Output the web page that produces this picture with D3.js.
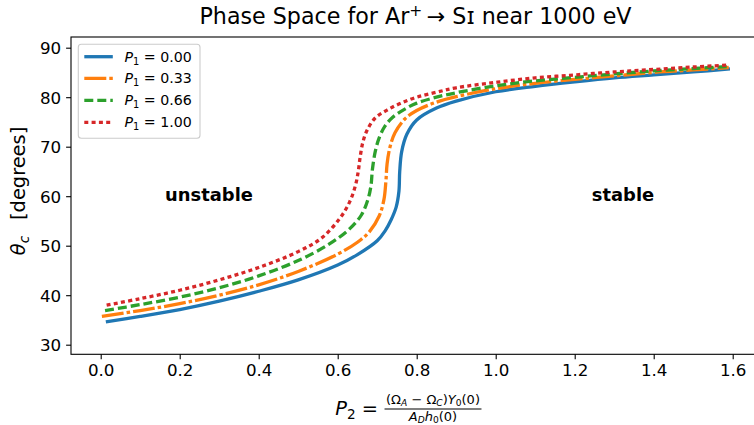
<!DOCTYPE html>
<html><head><meta charset="utf-8">
<script src="https://cdn.jsdelivr.net/npm/d3@7"></script>
<style>body{margin:0;background:#fff}svg{display:block;font-family:"DejaVu Sans",sans-serif}</style>
</head><body><svg id="c" width="754" height="425"></svg>
<script>
// ---- data ----
const seriesLabels = ["0.00", "0.33", "0.66", "1.00"];
const p2_P0 = [0.013,0.1,0.2,0.3,0.4,0.5,0.6,0.65,0.7,0.72,0.735,0.748,0.755,0.757,0.762,0.775,0.8,0.85,0.9,1.0,1.1,1.2,1.3,1.4,1.5,1.593];
const th_P0 = [34.6,35.7,37.1,38.8,40.8,43.1,46.1,48.2,51.0,53.0,55.2,57.8,61.0,65.0,69.0,72.5,75.4,77.8,79.2,81.1,82.2,83.1,83.9,84.5,85.1,85.7];
const p2_P33 = [0.003,0.1,0.2,0.3,0.4,0.5,0.6,0.65,0.68,0.705,0.717,0.722,0.725,0.732,0.745,0.77,0.8,0.85,0.9,1.0,1.1,1.2,1.3,1.4,1.5,1.59];
const th_P33 = [35.7,36.9,38.3,40.0,42.1,44.8,48.3,50.7,52.8,56.0,59.3,63.0,66.5,69.8,72.8,75.6,77.3,79.0,80.1,81.7,82.8,83.6,84.3,85.0,85.5,86.0];
const p2_P66 = [0.011,0.1,0.2,0.3,0.4,0.5,0.58,0.63,0.66,0.676,0.684,0.688,0.695,0.705,0.72,0.74,0.77,0.8,0.85,0.9,1.0,1.1,1.2,1.3,1.4,1.5,1.59];
const th_P66 = [36.9,38.1,39.6,41.5,43.9,47.0,50.4,53.4,56.2,59.2,62.0,65.5,69.0,71.8,74.2,76.0,77.6,78.8,80.0,80.9,82.3,83.3,84.0,84.7,85.3,85.8,86.2];
const p2_P100 = [0.015,0.1,0.2,0.3,0.4,0.5,0.56,0.606,0.63,0.645,0.652,0.657,0.664,0.675,0.695,0.725,0.76,0.8,0.85,0.9,1.0,1.1,1.2,1.3,1.4,1.5,1.59];
const th_P100 = [38.0,39.3,41.0,43.1,45.6,48.8,51.6,55.6,58.8,62.2,65.0,68.0,71.0,73.4,75.8,77.4,78.8,80.0,81.0,81.9,83.0,83.9,84.5,85.1,85.6,86.1,86.5];
const xTicks = [0.0,0.2,0.4,0.6,0.8,1.0,1.2,1.4,1.6];
const yTicks = [30,40,50,60,70,80,90];

// ---- layout ----
const svg = d3.select("#c");
const L = 71, T = 37, R = 760, B = 354.3;
const x = d3.scaleLinear().domain([-0.0752, 1.6691]).range([L, R]);
const y = d3.scaleLinear().domain([28.06, 92.16]).range([B, T]);

const styles = [
  {c:"#1f77b4", d:null},
  {c:"#ff7f0e", d:"22,3,3.5,3"},
  {c:"#2ca02c", d:"9,4"},
  {c:"#d62728", d:"4,3.3"}
];
const xs = [p2_P0, p2_P33, p2_P66, p2_P100];
const ys = [th_P0, th_P33, th_P66, th_P100];

const line = d3.line().x(d=>x(d[0])).y(d=>y(d[1])).curve(d3.curveCatmullRom.alpha(0.5));
xs.forEach((xv,i)=>{
  const pts = xv.map((v,j)=>[v, ys[i][j]]);
  svg.append("path").attr("d", line(pts)).attr("fill","none")
    .attr("stroke", styles[i].c).attr("stroke-width", 3.3)
    .attr("stroke-dasharray", styles[i].d).attr("stroke-linecap","butt");
});

// axes
const xAxis = svg.append("g").attr("transform",`translate(0,${B})`)
  .call(d3.axisBottom(x).tickValues(xTicks).tickFormat(d3.format(".1f")).tickSize(4.9).tickPadding(4.9));
const yAxis = svg.append("g").attr("transform",`translate(${L},0)`)
  .call(d3.axisLeft(y).tickValues(yTicks).tickFormat(d3.format("d")).tickSize(4.9).tickPadding(4.9));
[xAxis,yAxis].forEach(g=>{
  g.selectAll("text").attr("font-size",16.7).attr("fill","#000").attr("font-family","DejaVu Sans");
  g.selectAll("line").attr("stroke","#000").attr("stroke-width",1.1);
  g.select(".domain").remove();
});
yAxis.selectAll("text").attr("dy","0.36em");
// spines
svg.append("rect").attr("x",L).attr("y",T).attr("width",R-L).attr("height",B-T)
  .attr("fill","none").attr("stroke","#000").attr("stroke-width",1.1);

// title
const title = svg.append("text").attr("x",(L+R)/2).attr("y",24).attr("text-anchor","middle")
  .attr("font-size",22.2).attr("fill","#000");
title.append("tspan").text("Phase Space for Ar");
title.append("tspan").attr("dy",-8).attr("font-size",15.5).text("+");
title.append("tspan").attr("dy",8).text("\u2009\u2192 S\u026A near 1000 eV");

// region labels
svg.append("text").attr("x",209).attr("y",201).attr("text-anchor","middle")
  .attr("font-size",17.9).attr("font-weight","bold").text("unstable");
svg.append("text").attr("x",623).attr("y",201).attr("text-anchor","middle")
  .attr("font-size",17.9).attr("font-weight","bold").text("stable");

// legend
const lg = svg.append("g");
lg.append("rect").attr("x",78.3).attr("y",44.3).attr("width",121.7).attr("height",94)
  .attr("rx",3).attr("fill","#fff").attr("fill-opacity",0.8).attr("stroke","#cccccc").attr("stroke-width",1.1);
const rowY = [56.7, 78.3, 100.3, 122.3];
seriesLabels.forEach((lab,i)=>{
  lg.append("line").attr("x1",84.3).attr("x2",112.8).attr("y1",rowY[i]).attr("y2",rowY[i])
    .attr("stroke",styles[i].c).attr("stroke-width",3.3).attr("stroke-dasharray",styles[i].d);
  const t = lg.append("text").attr("x",124.5).attr("y",rowY[i]+5).attr("font-size",14.2);
  t.append("tspan").attr("font-style","italic").text("P");
  t.append("tspan").attr("font-size",9.9).attr("dy",2.9).text("1");
  t.append("tspan").attr("dy",-2.9).text(" = " + lab);
});

// y label
const yl = svg.append("text").attr("transform","translate(25,191) rotate(-90)")
  .attr("text-anchor","middle").attr("font-size",19.4);
yl.append("tspan").attr("font-style","italic").text("θ");
yl.append("tspan").attr("font-style","italic").attr("font-size",13.6).attr("dy",3.9).text("c");
yl.append("tspan").attr("dy",-3.9).text("\u2002 [degrees]");

// x label (fraction)
const xl = svg.append("text").attr("x",378).attr("y",415).attr("text-anchor","end").attr("font-size",19.4);
xl.append("tspan").attr("font-style","italic").text("P");
xl.append("tspan").attr("font-size",13.6).attr("dy",3.9).text("2");
xl.append("tspan").attr("dy",-3.9).text(" =");
const fx = 433;
const num = svg.append("text").attr("x",fx).attr("y",404).attr("text-anchor","middle").attr("font-size",13);
num.append("tspan").text("(Ω");
num.append("tspan").attr("font-style","italic").attr("font-size",9.1).attr("dy",2.4).text("A");
num.append("tspan").attr("dy",-2.4).text(" − Ω");
num.append("tspan").attr("font-style","italic").attr("font-size",9.1).attr("dy",2.4).text("C");
num.append("tspan").attr("dy",-2.4).text(")");
num.append("tspan").attr("font-style","italic").text("Y");
num.append("tspan").attr("font-size",9.1).attr("dy",2.4).text("0");
num.append("tspan").attr("dy",-2.4).text("(0)");
const den = svg.append("text").attr("x",fx).attr("y",421).attr("text-anchor","middle").attr("font-size",13);
den.append("tspan").attr("font-style","italic").text("A");
den.append("tspan").attr("font-style","italic").attr("font-size",9.1).attr("dy",2.4).text("D");
den.append("tspan").attr("font-style","italic").attr("dy",-2.4).text("h");
den.append("tspan").attr("font-size",9.1).attr("dy",2.4).text("0");
den.append("tspan").attr("dy",-2.4).text("(0)");
const nb = num.node().getBBox();
svg.append("line").attr("x1",nb.x-1.5).attr("x2",nb.x+nb.width+1.5).attr("y1",409).attr("y2",409)
  .attr("stroke","#000").attr("stroke-width",1.2);
</script></body></html>
